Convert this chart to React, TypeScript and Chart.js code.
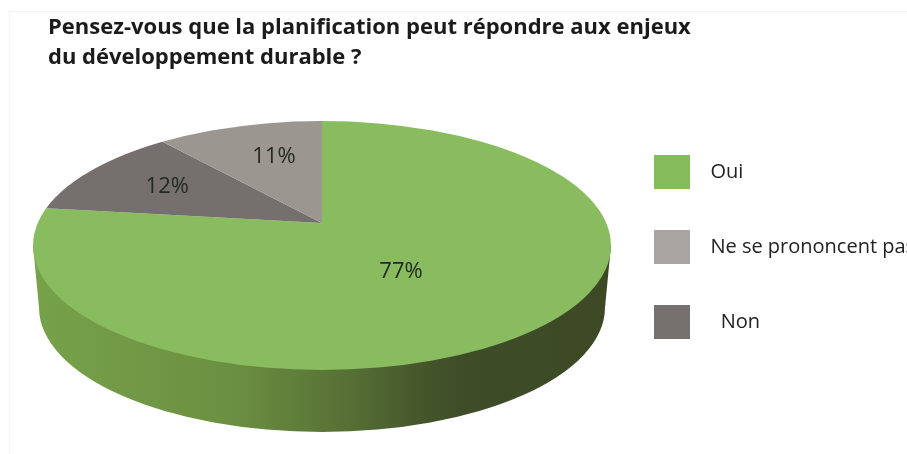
import React, { useEffect, useRef } from "react";
import { Chart, registerables } from "chart.js";

Chart.register(...registerables);

const titleLines = [
  "Pensez-vous que la planification peut répondre aux enjeux",
  "du développement durable ?",
];
const categories = ["Oui", "Non", "Ne se prononcent pas"];
const values = [77, 12, 11];
const sliceColors = ["#88bc5e", "#75706d", "#9c9691"];
const legendOrder = ["Oui", "Ne se prononcent pas", "Non"];
const legendColors = ["#86bb5c", "#a9a4a0", "#76716e"];
const legendPrefixes = ["  ", "  ", "    "];
const labelNudges = [
  [-40, -8],
  [3, 0],
  [13, 5],
];

const W = 907;
const H = 454;
const FONT = "'Open Sans', sans-serif";
const APEX = { x: 322, y: 223 };
const TILT = 0.4214;
const REACH = 360;
const DISC = { x: 322, y: 245.5, rx: 289, ry: 124.5 };
const DEPTH = 62;
const LEGEND_GAP = 41;

const pie3d = {
  id: "pie3d",
  beforeDraw(chart: any) {
    const { ctx } = chart;
    ctx.save();
    ctx.strokeStyle = "#f3f3f3";
    ctx.lineWidth = 1;
    ctx.beginPath();
    ctx.moveTo(9.5, H);
    ctx.lineTo(9.5, 11.5);
    ctx.lineTo(W, 11.5);
    ctx.stroke();
    ctx.restore();
  },
  afterLayout(chart: any) {
    chart.legend.left = 654 - LEGEND_GAP;
    chart.legend.top = 155 - LEGEND_GAP;
  },
  beforeDatasetsDraw(chart: any) {
    const { ctx } = chart;
    const arc = chart.getDatasetMeta(0).data[0];
    const { x, y, outerRadius } = arc.getProps(["x", "y", "outerRadius"], true);

    const g = ctx.createLinearGradient(DISC.x - DISC.rx, 0, DISC.x + DISC.rx, 0);
    g.addColorStop(0, "#76a24a");
    g.addColorStop(0.35, "#6b8f41");
    g.addColorStop(0.55, "#566f35");
    g.addColorStop(0.68, "#44552a");
    g.addColorStop(0.75, "#3e4c27");
    g.addColorStop(1, "#3d4925");
    ctx.save();
    ctx.fillStyle = g;
    ctx.beginPath();
    ctx.moveTo(DISC.x - DISC.rx, DISC.y);
    ctx.lineTo(DISC.x - DISC.rx + 6, DISC.y + DEPTH);
    ctx.ellipse(DISC.x, DISC.y + DEPTH, DISC.rx - 6, DISC.ry, 0, Math.PI, 0, true);
    ctx.lineTo(DISC.x + DISC.rx, DISC.y);
    ctx.closePath();
    ctx.fill();
    ctx.restore();

    ctx.save();
    ctx.beginPath();
    ctx.ellipse(DISC.x, DISC.y, DISC.rx, DISC.ry, 0, 0, Math.PI * 2);
    ctx.clip();
    const k = REACH / outerRadius;
    ctx.translate(APEX.x, APEX.y);
    ctx.scale(k, k * TILT);
    ctx.translate(-x, -y);
  },
  afterDatasetsDraw(chart: any) {
    const { ctx } = chart;
    ctx.restore();
    const meta = chart.getDatasetMeta(0);
    const first = meta.data[0].getProps(["x", "y", "outerRadius"], true);
    const k = REACH / first.outerRadius;
    ctx.save();
    ctx.font = `22px ${FONT}`;
    ctx.fillStyle = "#222a22";
    ctx.textAlign = "center";
    ctx.textBaseline = "middle";
    meta.data.forEach((el: any, i: number) => {
      const p = el.getCenterPoint(true);
      const px = APEX.x + (p.x - first.x) * k + labelNudges[i][0];
      const py = APEX.y + (p.y - first.y) * k * TILT + labelNudges[i][1];
      ctx.fillText(`${values[i]}%`, px, py);
    });
    ctx.restore();
  },
};

export default function App() {
  const ref = useRef<HTMLCanvasElement>(null);
  useEffect(() => {
    const chart = new Chart(ref.current as HTMLCanvasElement, {
      type: "pie",
      data: {
        labels: categories,
        datasets: [
          {
            data: values,
            backgroundColor: sliceColors,
            borderWidth: 0,
            clip: false,
          } as any,
        ],
      },
      plugins: [pie3d],
      options: {
        responsive: false,
        animation: false,
        devicePixelRatio: 1,
        layout: { padding: { left: 48, top: 13 } },
        plugins: {
          tooltip: { enabled: false },
          title: {
            display: true,
            text: titleLines,
            align: "start",
            color: "#1b1b1b",
            font: { family: FONT, size: 22, weight: "bold", lineHeight: 1.36 },
            padding: 0,
          },
          legend: {
            display: true,
            position: "right",
            align: "start",
            labels: {
              boxWidth: 36,
              boxHeight: 34,
              padding: LEGEND_GAP,
              color: "#222222",
              font: { family: FONT, size: 20 },
              generateLabels(c: any) {
                const base = (Chart as any).overrides.pie.plugins.legend.labels.generateLabels(c);
                return legendOrder.map((name, i) => {
                  const item = base[categories.indexOf(name)];
                  return {
                    ...item,
                    text: legendPrefixes[i] + name,
                    fillStyle: legendColors[i],
                    strokeStyle: legendColors[i],
                    lineWidth: 0,
                  };
                });
              },
            },
          },
        },
      } as any,
    });
    return () => chart.destroy();
  }, []);
  return (
    <div style={{ position: "fixed", left: 0, top: 0, width: W, height: H, overflow: "hidden", background: "#fff" }}>
      <canvas ref={ref} width={W} height={H} style={{ display: "block" }} />
    </div>
  );
}
